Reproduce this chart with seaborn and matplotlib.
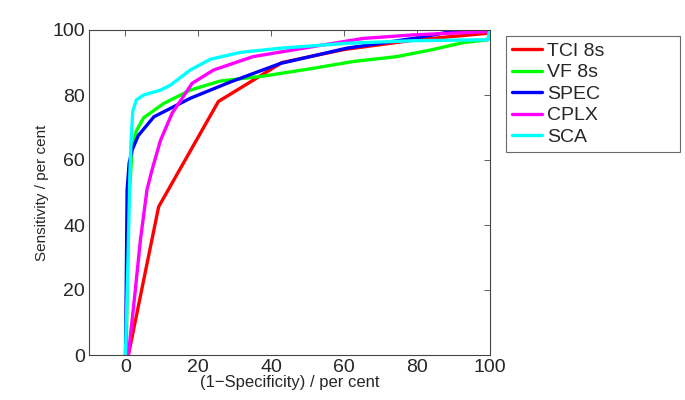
import pandas as pd
import numpy as np
import matplotlib
matplotlib.use("Agg")
import matplotlib.pyplot as plt
import seaborn as sns

# ROC curves: (1-specificity, sensitivity) in per cent
tci_x = [0.8, 9.1, 25.5, 43, 60, 80, 99.5, 100]
tci_y = [0, 45.6, 78, 90, 94, 97, 99, 100]

vf_x = [0.2, 0.8, 1.8, 3, 5, 10.5, 17.8, 26, 37.8, 51.5, 62.5, 74.4, 83.6, 92.6, 99.5, 100]
vf_y = [0, 45, 63, 69, 73, 77.4, 81.5, 84.3, 85.8, 88.2, 90.3, 91.8, 93.8, 96.1, 97, 100]

spec_x = [0, 0.2, 0.45, 1.0, 1.8, 3.5, 7.8, 17.8, 28.8, 42.5, 60.7, 79, 90.9, 100]
spec_y = [0, 20, 50.8, 59, 63, 67.5, 73.3, 79, 84, 89.7, 94.4, 97.4, 99.8, 100]

cplx_x = [0.8, 2.7, 4.1, 5.9, 7.3, 9.6, 12.8, 18.3, 24.2, 35, 51.5, 65.2, 79, 99.5, 100]
cplx_y = [0, 20, 35.4, 50.8, 57, 66, 74.4, 83.6, 87.7, 91.8, 94.9, 97.4, 98.5, 99.5, 100]

sca_x = [0, 0.7, 1.2, 1.5, 2.0, 3.0, 5.0, 9.6, 12.3, 17.8, 23.3, 31.5, 42.5, 60.7, 79, 99.5, 100]
sca_y = [0, 30, 55, 65, 75, 78.5, 80, 81.5, 83, 87.7, 91, 93.1, 94.4, 95.9, 96.7, 97, 100]

names = ["TCI 8s", "VF 8s", "SPEC", "CPLX", "SCA"]
colors = ["#ff0000", "#00ff00", "#0000ff", "#ff00ff", "#00ffff"]

rows = []
for name, xs, ys in zip(names, [tci_x, vf_x, spec_x, cplx_x, sca_x],
                        [tci_y, vf_y, spec_y, cplx_y, sca_y]):
    for a, b in zip(xs, ys):
        rows.append({"method": name, "fpr": a, "tpr": b})
df = pd.DataFrame(rows)

sns.set_theme(style="white")
plt.rcParams['font.family'] = ['Liberation Sans', 'DejaVu Sans']

fig = plt.figure(figsize=(6.85, 4), dpi=100)
ax = fig.add_axes([0.130, 0.1125, 0.585, 0.8125])

sns.lineplot(data=df, x="fpr", y="tpr", hue="method", hue_order=names,
             palette=colors, sort=False, estimator=None, linewidth=2.4, ax=ax)

ax.set_xlim(-10, 100)
ax.set_ylim(0, 100)
ax.set_xticks([0, 20, 40, 60, 80, 100])
ax.set_yticks([0, 20, 40, 60, 80, 100])
ax.tick_params(direction="in", top=True, right=True, length=4, labelsize=14,
               color="#444444", width=0.6, pad=3)
for s in ax.spines.values():
    s.set_color("#444444")
    s.set_linewidth(0.8)
ax.set_xlabel("(1\u2212Specificity) / per cent", fontsize=12, labelpad=-1)
ax.set_ylabel("Sensitivity / per cent", fontsize=11, labelpad=2)

leg = ax.legend(loc="upper left", bbox_to_anchor=(1.04, 0, 0.434, 0.9815),
                mode="expand", fontsize=14, frameon=True, fancybox=False,
                edgecolor="#444444", handlelength=1.55, borderaxespad=0,
                labelspacing=0.2, handletextpad=0.25, borderpad=0.32)
leg.get_frame().set_linewidth(0.8)
leg.get_frame().set_facecolor("white")
for line in leg.get_lines():
    line.set_linewidth(2.4)

fig.savefig("out.png", dpi=100)
